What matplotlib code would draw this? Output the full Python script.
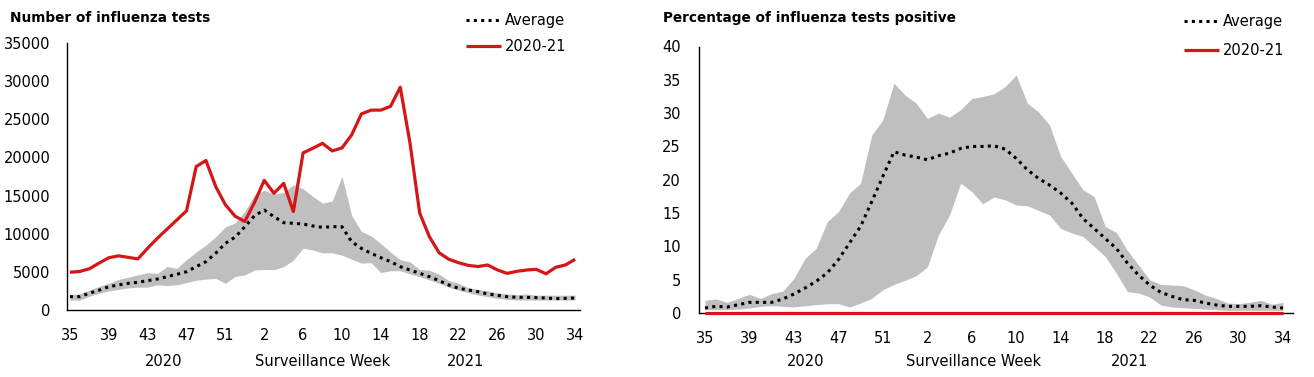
import matplotlib
matplotlib.use("Agg")
import matplotlib.pyplot as plt
import numpy as np

# surveillance weeks 35 (2020) .. 34 (2021), 2020 had 53 weeks
weeks = [35, 36, 37, 38, 39, 40, 41, 42, 43, 44, 45, 46, 47, 48, 49, 50, 51, 52, 53,
         1, 2, 3, 4, 5, 6, 7, 8, 9, 10, 11, 12, 13, 14, 15, 16, 17, 18, 19, 20,
         21, 22, 23, 24, 25, 26, 27, 28, 29, 30, 31, 32, 33, 34]

# number of influenza tests
tests_2021 = [4950, 5050, 5400, 6150, 6850, 7100, 6900, 6700, 8100, 9400, 10600, 11800, 13000,
              18800, 19600, 16200, 13800, 12300,
              11600, 14100, 17000, 15300, 16600, 12900,
              20600, 21200, 21850, 20850, 21250, 22950, 25700, 26200, 26200, 26700, 29200,
              21900, 12700, 9600, 7500, 6650, 6200, 5850, 5700, 5900, 5250, 4800, 5070, 5240,
              5330, 4750, 5600, 5900, 6650]
tests_avg = [1750, 1750, 2200, 2600, 3050, 3280, 3500, 3630, 3850, 4060, 4370, 4680, 5020,
             5680, 6340, 7440, 8740,
             9550, 10900, 12370, 13100, 12230, 11450, 11360, 11270, 11010, 10840, 10920, 10920,
             8950, 8080, 7430, 6860, 6340, 5680, 5240, 4810, 4370, 3850, 3280, 2840, 2620, 2400,
             2100, 1920, 1750, 1660, 1660, 1620, 1570, 1490, 1530, 1570]
tests_hi = [2000, 2100, 2600, 3100, 3500, 4000, 4300, 4600, 4900, 4800, 5700, 5450,
            6600, 7600, 8500, 9600, 10900, 11400, 12900, 15100, 15700, 15200, 15400, 16400,
            15900, 14900, 14000, 14300, 17500,
            12400, 10300, 9700, 8700, 7600, 6600, 6300, 5300, 5200, 4700, 3850, 3500, 2950,
            2700, 2500, 2250, 2100, 2000, 2100, 1950, 1950, 1930, 1930, 1950]
tests_lo = [1300, 1300, 1800, 2200, 2500, 2700, 2900, 3000, 3000, 3300, 3200, 3300, 3600,
            3900, 4050, 4150, 3500, 4400,
            4600, 5240, 5300, 5300, 5680, 6550, 8100, 7870, 7500, 7500, 7200, 6650, 6150, 6200,
            4900, 5150, 5150,
            4720, 4370, 3930, 3500, 2970, 2620, 2270, 1970, 1750, 1530, 1400, 1310, 1310, 1310,
            1310, 1310, 1310, 1310]

# percentage of influenza tests positive
pct_2021 = [0.0] * 53
pct_avg = [0.75, 1.0, 0.9, 1.25, 1.6, 1.6, 1.6, 2.1, 2.85, 3.75, 4.75, 6.0, 8.0, 10.5, 13.0,
           16.7, 20.5,
           24.2, 23.7, 23.4, 23.0, 23.6, 24.0, 24.7, 25.0, 25.0, 25.1, 24.6, 23.2, 21.5, 20.2,
           19.2, 18.0, 16.5, 14.2,
           12.7, 11.2, 9.7, 7.5, 5.7, 4.2, 3.1, 2.5, 2.0, 1.9, 1.5, 1.2, 1.0, 1.0, 1.0, 1.1,
           0.9, 0.75]
pct_hi = [1.9, 2.1, 1.6, 2.2, 2.8, 2.2, 2.9, 3.3, 5.2, 8.2, 9.7, 13.7, 15.2, 18.0, 19.5,
          26.7, 29.0,
          34.5, 32.7, 31.5, 29.2, 30.0, 29.4, 30.5, 32.2, 32.5, 32.9, 34.0, 35.7, 31.5, 30.2,
          28.2, 23.5, 21.0, 18.5,
          17.5, 13.0, 12.1, 9.4, 7.2, 5.0, 4.3, 4.2, 4.1, 3.5, 2.7, 2.2, 1.5, 1.4, 1.6, 1.9,
          1.3, 1.6]
pct_lo = [0.5, 0.5, 0.5, 0.6, 0.75, 1.0, 1.1, 1.0, 0.9, 1.1, 1.25, 1.4, 1.4, 0.9, 1.5,
          2.2, 3.5,
          4.3, 4.9, 5.6, 6.9, 11.7, 14.7, 19.5, 18.2, 16.4, 17.4, 17.0, 16.2, 16.1, 15.4,
          14.7, 12.7, 12.0, 11.5,
          10.0, 8.5, 6.0, 3.2, 3.0, 2.4, 1.2, 0.9, 0.8, 0.7, 0.6, 0.5, 0.4, 0.4, 0.4, 0.4,
          0.4, 0.4]

RED = "#d41616"
GREY = "#bfbfbf"

W, H = 1314, 377
fig = plt.figure(figsize=(W / 100, H / 100), dpi=100)


def panel(rect, xlim, lo, hi, avg, cur, ymax, ystep, title, title_x,
          legend_xy, legend_gap, year_pos):
    ax = fig.add_axes(rect)
    x = np.arange(len(weeks))
    ax.fill_between(x, lo, hi, color=GREY, lw=0, zorder=1)
    avg_line, = ax.plot(x, avg, color="black", lw=2.2, ls=(0, (1, 1.4)),
                        dash_capstyle="butt", label="Average", zorder=3)
    cur_line, = ax.plot(x, cur, color=RED, lw=2.3, label="2020-21", zorder=4,
                        solid_capstyle="butt", clip_on=False)
    ax.set_xlim(*xlim)
    ax.set_ylim(0, ymax)
    ax.set_yticks(np.arange(0, ymax + 1, ystep))
    ax.set_xticks(x[::4])
    ax.set_xticklabels([str(w) for w in weeks[::4]])
    ax.tick_params(axis="both", length=0, labelsize=10.5)
    ax.tick_params(axis="x", pad=13)
    ax.tick_params(axis="y", pad=12)
    for s in ["top", "right"]:
        ax.spines[s].set_visible(False)
    for s in ["left", "bottom"]:
        ax.spines[s].set_linewidth(1.0)
        ax.spines[s].set_color("black")

    fig.text(title_x / W, 1 - 18 / H, title, fontsize=9.8, fontweight="bold",
             va="center", ha="left")
    fig.legend([avg_line, cur_line], ["Average", "2020-21"], loc="upper left",
               bbox_to_anchor=(legend_xy[0] / W, 1 - legend_xy[1] / H), frameon=False,
               fontsize=10.5, handlelength=2.4, handletextpad=0.3,
               labelspacing=legend_gap, borderpad=0, borderaxespad=0)
    for xp, s in year_pos:
        fig.text(xp / W, 1 - 361 / H, s, fontsize=10.5, ha="center", va="center")
    return ax


ax1 = panel([67 / W, 1 - 310 / H, (580 - 67) / W, 267 / H], (-0.3, 52.5),
            tests_lo, tests_hi, tests_avg, tests_2021, 35000, 5000,
            "Number of influenza tests", 10, (466, 13), 0.75,
            [(164, "2020"), (323, "Surveillance Week"), (466, "2021")])

ax2 = panel([699 / W, 1 - 313 / H, (1293 - 699) / W, 266.5 / H], (-0.54, 52.9),
            pct_lo, pct_hi, pct_avg, pct_2021, 40, 5,
            "Percentage of influenza tests positive", 663, (1184, 14), 0.95,
            [(806, "2020"), (974, "Surveillance Week"), (1130, "2021")])
ax2.tick_params(axis="y", pad=13)

fig.savefig("out.png", dpi=100)
